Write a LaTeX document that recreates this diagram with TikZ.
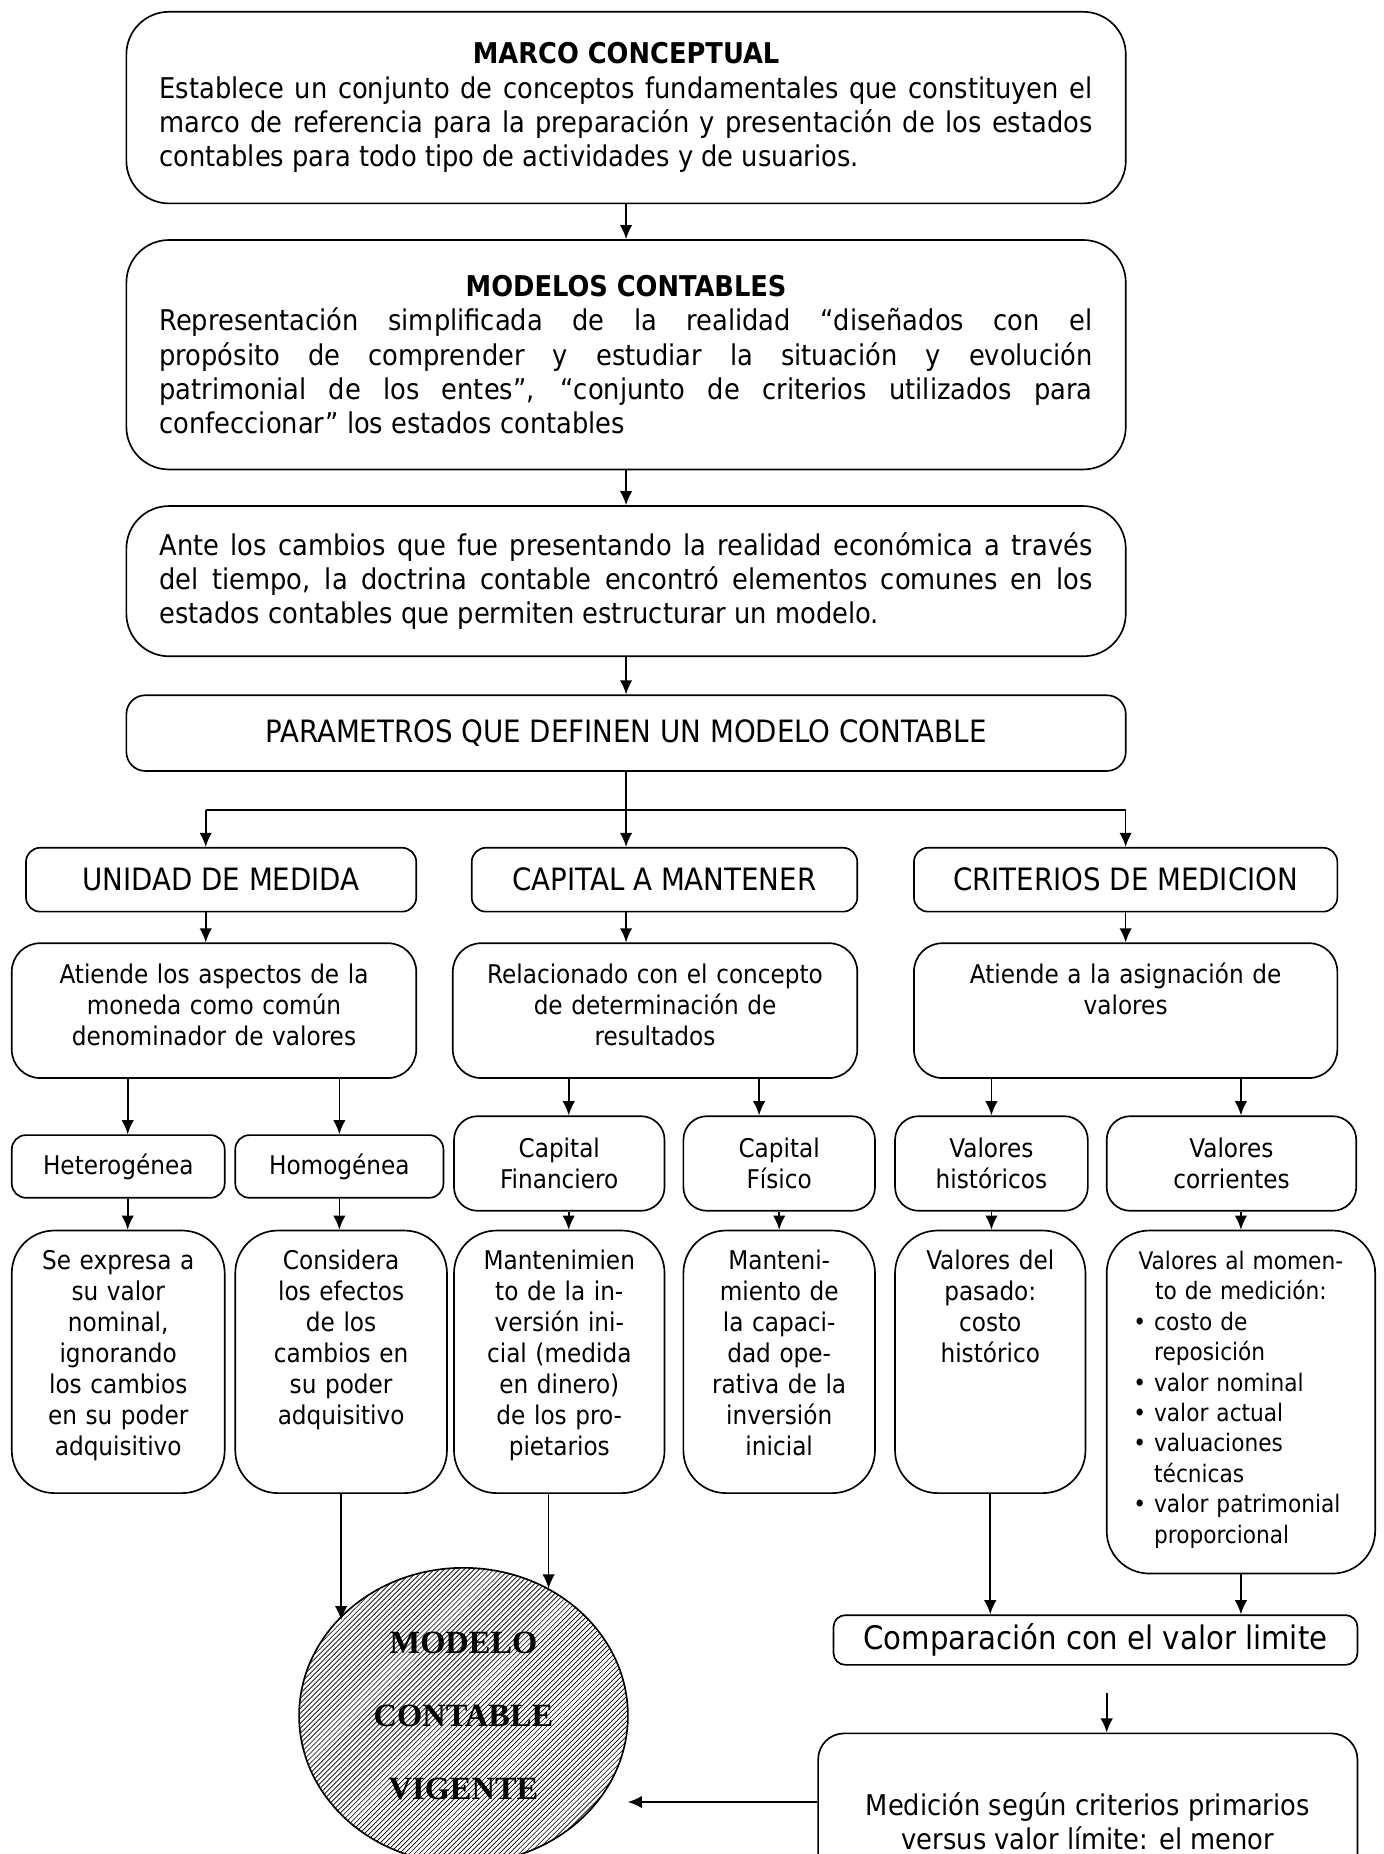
\documentclass[tikz,border=0pt]{standalone}
\usepackage{fontspec}
\setmainfont{DejaVu Sans Condensed}
\newfontfamily\serifbold{Liberation Serif}
\usepackage{tikz}
\usetikzlibrary{shapes.geometric, arrows, arrows.meta, patterns}
\newcommand{\bodyfont}{\fontsize{17.2}{20.6}\selectfont}
\newcommand{\headfont}{\fontsize{18.5}{22}\selectfont}
\newcommand{\smallfont}{\fontsize{15.5}{18.7}\selectfont}
\newcommand{\listfont}{\fontsize{14.5}{18.3}\selectfont}
\hyphenpenalty=10000
\pgfdeclarepatternformonly{hatch}{\pgfqpoint{-1pt}{-1pt}}{\pgfqpoint{4pt}{4pt}}{\pgfqpoint{3pt}{3pt}}{%
	\pgfsetlinewidth{0.4pt}
	\pgfpathmoveto{\pgfqpoint{0pt}{0pt}}
	\pgfpathlineto{\pgfqpoint{3.1pt}{3.1pt}}
	\pgfusepath{stroke}}
\tikzstyle{bigbox} = [rectangle, rounded corners=0.9cm, minimum width=21.125cm, text width=19.725cm, inner xsep=0.7cm, inner ysep=0pt, align=justify, draw=black, line width=1pt, fill=white, font=\bodyfont]
\tikzstyle{headbox} = [rectangle, rounded corners=0.3cm, minimum height=1.35cm, inner sep=0pt, draw=black, line width=1pt, fill=white, font=\headfont]
\tikzstyle{midbox} = [rectangle, rounded corners=0.6cm, anchor=north, inner xsep=0.1cm, inner ysep=0.2cm, text height=0.65cm, text depth=1.8cm, align=center, draw=black, line width=1pt, fill=white, font=\smallfont]
\tikzstyle{smallbox} = [rectangle, rounded corners=0.3cm, inner sep=0pt, align=center, draw=black, line width=1pt, fill=white, font=\smallfont]
\tikzstyle{colbox} = [rectangle, rounded corners=0.9cm, anchor=north, inner xsep=0.1cm, inner ysep=0.2cm, text height=0.62cm, text depth=4.53cm, align=center, draw=black, line width=1pt, fill=white, font=\smallfont]
\tikzstyle{model} = [ellipse, minimum width=6.95cm, minimum height=6.25cm, inner sep=0pt, draw=black, line width=1pt, pattern=hatch, align=center, font=\serifbold\bfseries\fontsize{19.5}{44}\selectfont]
\tikzstyle{arrow} = [line width=1pt, ->, >={Latex[length=8.5pt,width=7.5pt]}]

\begin{document}
\begin{tikzpicture}[x=0.025cm, y=-0.025cm]
	\useasboundingbox (0,0) rectangle (1170,1568);
	% main column
	\node (marco) [bigbox, minimum height=4.05cm] at (529.5,91) {{\centering\bfseries MARCO CONCEPTUAL\par}Establece un conjunto de conceptos fundamentales que constituyen el\linebreak marco de referencia para la preparación y presentación de los estados\linebreak contables para todo tipo de actividades y de usuarios.};
	\node (modelos) [bigbox, minimum height=4.85cm] at (529.5,300) {{\centering\bfseries MODELOS CONTABLES\par}Representación simplificada de la realidad “diseñados con el\linebreak propósito de comprender y estudiar la situación y evolución\linebreak patrimonial de los entes”, “conjunto de criterios utilizados para\linebreak confeccionar” los estados contables};
	\node (ante) [bigbox, minimum height=3.175cm] at (529.5,491.5) {Ante los cambios que fue presentando la realidad económica a través\linebreak del tiempo, la doctrina contable encontró elementos comunes en los\linebreak estados contables que permiten estructurar un modelo.};
	\node (param) [headbox, minimum width=21.125cm, minimum height=1.6cm, rounded corners=0.4cm] at (529.5,620) {PARAMETROS QUE DEFINEN UN MODELO CONTABLE};
	% parameters
	\node (unidad) [headbox, minimum width=8.25cm] at (187,744) {UNIDAD DE MEDIDA};
	\node (capital) [headbox, minimum width=8.15cm] at (562,744) {CAPITAL A MANTENER};
	\node (criterios) [headbox, minimum width=8.95cm] at (952,744) {CRITERIOS DE MEDICION};
	\node (atU) [midbox, minimum width=8.55cm, text width=8.35cm] at (181,797) {Atiende los aspectos de la\\moneda como común\\denominador de valores};
	\node (relC) [midbox, minimum width=8.55cm, text width=8.35cm] at (554,797) {Relacionado con el concepto\\de determinación de\\resultados};
	\node (atC) [midbox, minimum width=8.95cm, text width=8.75cm] at (952,797) {Atiende a la asignación de\\valores};
	\node (het) [smallbox, minimum width=4.5cm, minimum height=1.325cm] at (100,986.5) {Heterogénea};
	\node (hom) [smallbox, minimum width=4.4cm, minimum height=1.325cm] at (287,986.5) {Homogénea};
	\node (capF) [smallbox, minimum width=4.45cm, minimum height=2cm, rounded corners=0.5cm] at (473,984) {Capital\\Financiero};
	\node (capP) [smallbox, minimum width=4.05cm, minimum height=2cm, rounded corners=0.5cm] at (659,984) {Capital\\Físico};
	\node (valH) [smallbox, minimum width=4.075cm, minimum height=2cm, rounded corners=0.5cm] at (838.5,984) {Valores\\históricos};
	\node (valC) [smallbox, minimum width=5.275cm, minimum height=2cm, rounded corners=0.5cm] at (1041.5,984) {Valores\\corrientes};
	\node (se) [colbox, minimum width=4.5cm, text width=4.3cm] at (100,1040) {Se expresa a\\su valor\\nominal,\\ignorando\\los cambios\\en su poder\\adquisitivo};
	\node (cons) [colbox, minimum width=4.475cm, text width=4.275cm] at (288.5,1040) {Considera\\los efectos\\de los\\cambios en\\su poder\\adquisitivo};
	\node (mant1) [colbox, minimum width=4.45cm, text width=4.25cm] at (473,1040) {Mantenimien\\to de la in-\\versión ini-\\cial (medida\\en dinero)\\de los pro-\\pietarios};
	\node (mant2) [colbox, minimum width=4.05cm, text width=3.85cm] at (659,1040) {Manteni-\\miento de\\la capaci-\\dad ope-\\rativa de la\\inversión\\inicial};
	\node (valP) [colbox, minimum width=4.025cm, text width=3.825cm] at (837.5,1040) {Valores del\\pasado:\\costo\\histórico};
	\node (valM) [colbox, minimum width=5.675cm, text width=4.55cm, text depth=6.23cm, align=left, font=\listfont] at (1049.5,1040) {\makebox[\linewidth]{Valores al momen-}\\\makebox[\linewidth]{to de medición:}\\\textbullet\ costo de\\\hphantom{\textbullet\ }reposición\\\textbullet\ valor nominal\\\textbullet\ valor actual\\\textbullet\ valuaciones\\\hphantom{\textbullet\ }técnicas\\\textbullet\ valor patrimonial\\\hphantom{\textbullet\ }proporcional};
	\node (comp) [headbox, minimum width=11.075cm, minimum height=1.05cm, rounded corners=0.25cm, font=\fontsize{19.5}{22}\selectfont] at (926.5,1387) {Comparación con el valor limite};
	\node (med) [smallbox, minimum width=11.4cm, minimum height=3.7cm, rounded corners=0.55cm, font=\bodyfont] at (920,1540) {Medición según criterios primarios\\versus valor límite: el menor};
	\node (ell) [model] at (392,1451) {MODELO\\CONTABLE\\VIGENTE};
	% connectors
	\coordinate (jL) at (174,685);
	\coordinate (jR) at (952,685);
	\coordinate (c1) at (108,0);
	\coordinate (c2) at (481,0);
	\coordinate (c3) at (642,0);
	\coordinate (c4) at (464,0);
	\coordinate (free) at (936,1432);
	\coordinate (tip) at (531,1524);
	\draw [arrow] (marco) -- (modelos);
	\draw [arrow] (modelos) -- (ante);
	\draw [arrow] (ante) -- (param);
	\draw [line width=1pt] (param.south) -- (param.south |- jL);
	\draw [line width=1pt] (jL) -- (jR);
	\draw [arrow] (jL) -- (jL |- unidad.north);
	\draw [arrow] (param.south |- jL) -- (param.south |- capital.north);
	\draw [arrow] (jR) -- (jR |- criterios.north);
	\draw [arrow] (unidad.south -| jL) -- (atU.north -| jL);
	\draw [arrow] (capital.south -| param.south) -- (relC.north -| param.south);
	\draw [arrow] (criterios) -- (atC);
	\draw [arrow] (c1 |- atU.south) -- (c1 |- het.north);
	\draw [arrow] (hom.north |- atU.south) -- (hom.north);
	\draw [arrow] (c2 |- relC.south) -- (c2 |- capF.north);
	\draw [arrow] (c3 |- relC.south) -- (c3 |- capP.north);
	\draw [arrow] (valH.north |- atC.south) -- (valH.north);
	\draw [arrow] (valM.north |- atC.south) -- (valM.north |- valC.north);
	\draw [arrow] (c1 |- het.south) -- (c1 |- se.north);
	\draw [arrow] (hom.south) -- (hom.south |- cons.north);
	\draw [arrow] (c2 |- capF.south) -- (c2 |- mant1.north);
	\draw [arrow] (capP) -- (mant2);
	\draw [arrow] (valH.south) -- (valH.south |- valP.north);
	\draw [arrow] (valM.north |- valC.south) -- (valM.north);
	\draw [arrow] (cons.south) -- (cons.south |- ell.143);
	\draw [arrow] (c4 |- mant1.south) -- (c4 |- ell.56);
	\draw [arrow] (valP.south) -- (valP.south |- comp.north);
	\draw [arrow] (valM.south) -- (valM.south |- comp.north);
	\draw [arrow] (free) -- (free |- med.north);
	\draw [arrow] (med.west |- tip) -- (tip);
\end{tikzpicture}
\end{document}
